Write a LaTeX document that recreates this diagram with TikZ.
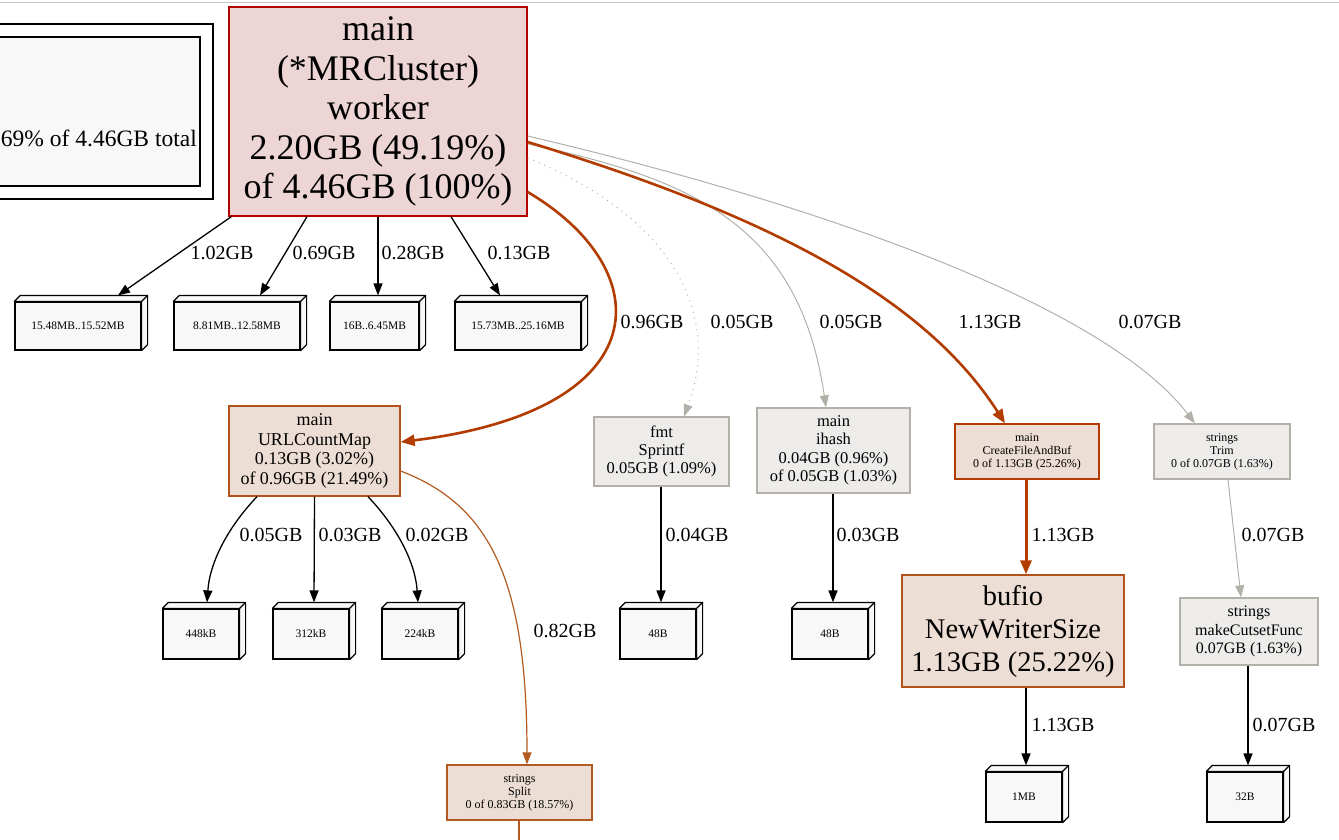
\documentclass[tikz,border=0pt]{standalone}
\usepackage{fontspec}
\setmainfont{Liberation Serif}
\usetikzlibrary{arrows.meta,calc}
\definecolor{redb}{HTML}{B20000}
\definecolor{redf}{HTML}{EDD5D5}
\definecolor{orf}{HTML}{EDDED5}
\definecolor{orb1}{HTML}{B23C00}
\definecolor{orb2}{HTML}{B2531C}
\definecolor{orb3}{HTML}{B25A1F}
\definecolor{grf}{HTML}{EDECEA}
\definecolor{grb}{HTML}{B2B0A8}
\definecolor{boxf}{HTML}{F8F8F8}
\newcommand\mkdepth[1]{%
  \filldraw[fill=boxf, draw=black, line width=1.2pt, line join=round]
    (#1.north west) -- ++(6pt,6pt) -- ([shift={(6pt,6pt)}]#1.north east)
    -- ([shift={(6pt,6pt)}]#1.south east) -- (#1.south east) -- (#1.north east) -- cycle;
  \draw[black, line width=1.2pt] (#1.north east) -- ++(6pt,6pt);}
\tikzset{
  fn/.style={draw, line width=1.3pt, inner sep=0pt, align=center},
  redn/.style={fn, draw=redb, fill=redf},
  orn/.style={fn, draw=#1, fill=orf},
  grn/.style={fn, draw=grb, fill=grf},
  box/.style={draw=black, fill=boxf, line width=1.2pt, inner sep=0pt,
    minimum width=76pt, minimum height=50pt, font=\fontsize{11.5}{12}\selectfont},
  lbl/.style={inner sep=0pt, font=\fontsize{20}{22}\selectfont},
  blk/.style={draw=black, line width=1.3pt, -{Triangle[length=12pt,width=9pt]}},
  thk/.style={draw=orb1, line width=2.6pt, -{Triangle[length=14pt,width=11pt]}},
  mid/.style={draw=orb3, line width=1.2pt, -{Triangle[length=12pt,width=9pt]}},
  gry/.style={draw=grb, line width=1pt, -{Triangle[length=12pt,width=9pt]}},
  dotl/.style={draw=grb, line width=1pt, dash pattern=on 1pt off 5pt, -{Triangle[length=12pt,width=9pt]}},
}
\begin{document}
\begin{tikzpicture}[x=1pt,y=-1pt]
\useasboundingbox (0,0) rectangle (1339,839);
\draw[line width=1pt, black!22] (0,2) -- (1339,2);
% legend
\draw[line width=1.3pt, black] (-10,24) rectangle (213,199);
\draw[line width=1.3pt, black, fill=boxf] (-10,37) rectangle (200,186);
\node[anchor=east, inner sep=0pt, font=\fontsize{23.5}{26}\selectfont] (legend) at (197,138) {69\% of 4.46GB total};
% function nodes
\node[redn, minimum width=298pt, minimum height=209pt, font=\fontsize{36}{39.5}\selectfont] (main) at (378,111.5)
  {main\\(*MRCluster)\\worker\\2.20GB (49.19\%)\\of 4.46GB (100\%)};
\node[orn=orb2, minimum width=171pt, minimum height=90pt, font=\fontsize{18}{19.5}\selectfont] (url) at (314.5,451)
  {main\\URLCountMap\\0.13GB (3.02\%)\\of 0.96GB (21.49\%)};
\node[grn, minimum width=135pt, minimum height=69pt, font=\fontsize{16.5}{18}\selectfont] (fmt) at (661.5,451.5)
  {fmt\\Sprintf\\0.05GB (1.09\%)};
\node[grn, minimum width=153pt, minimum height=85pt, font=\fontsize{16.5}{18.5}\selectfont] (ihash) at (833.5,450.5)
  {main\\ihash\\0.04GB (0.96\%)\\of 0.05GB (1.03\%)};
\node[orn=orb1, minimum width=144pt, minimum height=55pt, font=\fontsize{12}{13}\selectfont] (cfab) at (1027,451.5)
  {main\\CreateFileAndBuf\\0 of 1.13GB (25.26\%)};
\node[grn, minimum width=136pt, minimum height=55pt, font=\fontsize{12}{13}\selectfont] (trim) at (1222,451.5)
  {strings\\Trim\\0 of 0.07GB (1.63\%)};
\node[orn=orb2, minimum width=222pt, minimum height=112pt, font=\fontsize{28.5}{33}\selectfont] (bufio) at (1013,631)
  {bufio\\NewWriterSize\\1.13GB (25.22\%)};
\node[grn, minimum width=138pt, minimum height=67pt, font=\fontsize{16}{18.5}\selectfont] (mcf) at (1249,631.5)
  {strings\\makeCutsetFunc\\0.07GB (1.63\%)};
\node[orn=orb3, minimum width=145pt, minimum height=55pt, font=\fontsize{12}{13}\selectfont] (split) at (519.5,792.5)
  {strings\\Split\\0 of 0.83GB (18.57\%)};
% 3D boxes
\node[box, minimum width=126pt, minimum height=48pt] (b1) at (78,326) {15.48MB..15.52MB};
\node[box, minimum width=126pt, minimum height=48pt] (b2) at (237,326) {8.81MB..12.58MB};
\node[box, minimum width=89pt, minimum height=48pt] (b3) at (374.5,326) {16B..6.45MB};
\node[box, minimum width=126pt, minimum height=48pt] (b4) at (518,326) {15.73MB..25.16MB};
\node[box] (k448) at (201,634) {448kB};
\node[box] (k312) at (311,634) {312kB};
\node[box] (k224) at (420,634) {224kB};
\node[box] (f48) at (658,634) {48B};
\node[box] (i48) at (830,634) {48B};
\node[box] (m1) at (1024,797) {1MB};
\node[box] (b32) at (1245,797) {32B};
\foreach \n in {b1,b2,b3,b4,k448,k312,k224,f48,i48,m1,b32} {\mkdepth{\n}}
\coordinate (tail) at (519,845);
% edges from main
\draw[blk] ([xshift=3pt]main.south west) -- ([xshift=40pt,yshift=6pt]b1.north);
\draw[blk] ([xshift=-71pt]main.south) -- ([xshift=23pt,yshift=6pt]b2.north);
\draw[blk] (main.south) -- ([xshift=3.5pt,yshift=6pt]b3.north);
\draw[blk] ([xshift=73pt]main.south) -- ([xshift=-18pt,yshift=6pt]b4.north);
\draw[thk] ([yshift=-80.5pt]main.east) .. controls (660,270) and (660,410) .. ([yshift=9pt]url.east);
\draw[dotl] ([yshift=-46.5pt]main.east) .. controls (680,220) and (720,320) .. ([xshift=22.5pt]fmt.north);
\draw[gry] ([yshift=-32.5pt]main.east) .. controls (700,180) and (800,230) .. ([xshift=-7.5pt]ihash.north);
\draw[thk] ([yshift=-30.5pt]main.east) .. controls (750,210) and (920,290) .. ([xshift=-22pt]cfab.north);
\draw[gry] ([yshift=-24.5pt]main.east) .. controls (800,200) and (1100,300) .. ([xshift=-27pt]trim.north);
% lower edges
\draw[blk] ([xshift=-57.5pt]url.south) .. controls (230,525) and (210,560) .. ([xshift=6pt,yshift=6pt]k448.north);
\draw[blk] (url.south) -- ([xshift=3pt,yshift=6pt]k312.north);
\draw[blk] ([xshift=53.5pt]url.south) .. controls (395,525) and (415,560) .. ([xshift=-2pt,yshift=6pt]k224.north);
\draw[mid] ([yshift=-20pt]url.east) .. controls (490,505) and (527,580) .. ([xshift=7.5pt]split.north);
\draw[draw=orb3, line width=1.2pt] ([xshift=-0.5pt]split.south) -- (tail);
\draw[blk] ([xshift=-0.5pt]fmt.south) -- ([xshift=3pt,yshift=6pt]f48.north);
\draw[blk] ([xshift=-0.5pt]ihash.south) -- ([xshift=3pt,yshift=6pt]i48.north);
\draw[thk, line width=3pt] ([xshift=-1pt]cfab.south) -- ([xshift=13pt]bufio.north);
\draw[gry] ([xshift=6pt]trim.south) -- ([xshift=-8pt]mcf.north);
\draw[blk] ([xshift=13pt]bufio.south) -- ([xshift=2pt,yshift=6pt]m1.north);
\draw[blk] ([xshift=-1pt]mcf.south) -- ([xshift=3pt,yshift=6pt]b32.north);
% labels
\node[lbl] (l1) at (222,253) {1.02GB};
\node[lbl] (l2) at (324,253) {0.69GB};
\node[lbl] (l3) at (413,253) {0.28GB};
\node[lbl] (l4) at (519,253) {0.13GB};
\node[lbl] (l5) at (652,322) {0.96GB};
\node[lbl] (l6) at (742,322) {0.05GB};
\node[lbl] (l7) at (851,322) {0.05GB};
\node[lbl] (l8) at (990,322) {1.13GB};
\node[lbl] (l9) at (1150,322) {0.07GB};
\node[lbl] (l10) at (271,535) {0.05GB};
\node[lbl] (l11) at (350,535) {0.03GB};
\node[lbl] (l12) at (437,535) {0.02GB};
\node[lbl] (l13) at (565,631) {0.82GB};
\node[lbl] (l14) at (697,535) {0.04GB};
\node[lbl] (l15) at (868,535) {0.03GB};
\node[lbl] (l16) at (1063,535) {1.13GB};
\node[lbl] (l17) at (1273,535) {0.07GB};
\node[lbl] (l18) at (1063,725) {1.13GB};
\node[lbl] (l19) at (1284,725) {0.07GB};
\end{tikzpicture}
\end{document}
